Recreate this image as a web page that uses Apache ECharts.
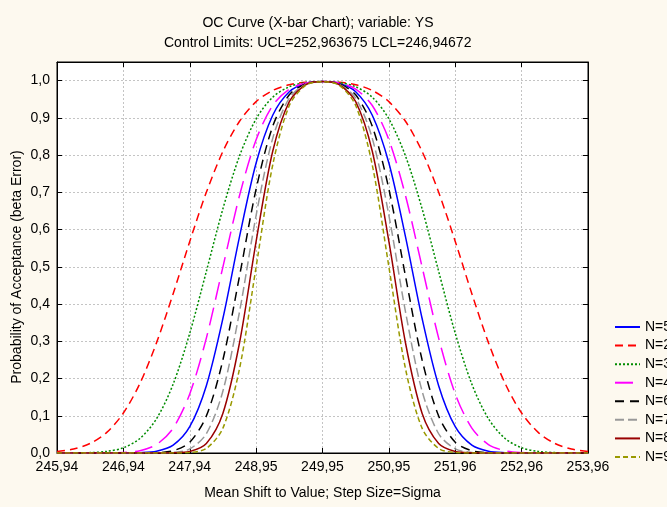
<!DOCTYPE html>
<html><head><meta charset="utf-8">
<script src="https://cdn.jsdelivr.net/npm/echarts@6/dist/echarts.min.js"></script>
<style>html,body{margin:0;padding:0;background:#fdf9ef}#c{width:667px;height:507px}</style>
</head><body><div id="c"></div>
<script>
// Mean shift in sigma steps from centre (249,95)
const shifts = [-4,-3.75,-3.5,-3.25,-3,-2.75,-2.5,-2.25,-2,-1.75,-1.5,-1.25,-1,-0.75,-0.5,-0.25,0,0.25,0.5,0.75,1,1.25,1.5,1.75,2,2.25,2.5,2.75,3,3.25,3.5,3.75,4];
const xTickLabels = ['245,94','246,94','247,94','248,95','249,95','250,95','251,96','252,96','253,96'];
const seriesNames = ['N=5','N=2','N=3','N=4','N=6','N=7','N=8','N=9'];
const n5 = [0,0,0,0,0.0001,0.0008,0.0048,0.0211,0.0707,0.1808,0.3618,0.5812,0.7787,0.9069,0.9700,0.9927,0.9973,0.9927,0.9700,0.9069,0.7787,0.5812,0.3618,0.1808,0.0707,0.0211,0.0048,0.0008,0.0001,0,0,0,0];
const n2 = [0.0039,0.0106,0.0258,0.0553,0.1073,0.1871,0.2964,0.4278,0.5681,0.7001,0.8100,0.8908,0.9435,0.9736,0.9891,0.9955,0.9973,0.9955,0.9891,0.9736,0.9435,0.8908,0.8100,0.7001,0.5681,0.4278,0.2964,0.1871,0.1073,0.0553,0.0258,0.0106,0.0039];
const n3 = [0.0000,0.0002,0.0011,0.0043,0.0140,0.0391,0.0920,0.1849,0.3215,0.4876,0.6562,0.7978,0.8973,0.9555,0.9835,0.9949,0.9973,0.9949,0.9835,0.9555,0.8973,0.7978,0.6562,0.4876,0.3215,0.1849,0.0920,0.0391,0.0140,0.0043,0.0011,0.0002,0.0000];
const n4 = [0,0,0,0.0002,0.0013,0.0062,0.0228,0.0668,0.1587,0.3085,0.5000,0.6915,0.8413,0.9332,0.9772,0.9938,0.9973,0.9938,0.9772,0.9332,0.8413,0.6915,0.5000,0.3085,0.1587,0.0668,0.0228,0.0062,0.0013,0.0002,0,0,0];
const n6 = [0,0,0,0,0,0.0001,0.0009,0.0060,0.0288,0.0992,0.2504,0.4753,0.7089,0.8773,0.9619,0.9915,0.9973,0.9915,0.9619,0.8773,0.7089,0.4753,0.2504,0.0992,0.0288,0.0060,0.0009,0.0001,0,0,0,0,0];
const n7 = [0,0,0,0,0,0,0.0002,0.0016,0.0110,0.0517,0.1666,0.3794,0.6382,0.8450,0.9531,0.9903,0.9973,0.9903,0.9531,0.8450,0.6382,0.3794,0.1666,0.0517,0.0110,0.0016,0.0002,0,0,0,0,0,0];
const n8 = [0,0,0,0,0,0,0,0.0004,0.0039,0.0256,0.1070,0.2961,0.5683,0.8103,0.9436,0.9891,0.9973,0.9891,0.9436,0.8103,0.5683,0.2961,0.1070,0.0256,0.0039,0.0004,0,0,0,0,0,0,0];
const n9 = [0,0,0,0,0,0,0,0.0001,0.0013,0.0122,0.0668,0.2266,0.5000,0.7734,0.9332,0.9878,0.9973,0.9878,0.9332,0.7734,0.5000,0.2266,0.0668,0.0122,0.0013,0.0001,0,0,0,0,0,0,0];

const seriesValues = [n5,n2,n3,n4,n6,n7,n8,n9];
const colors = ['#0000ff','#ff0000','#008c00','#ff00ff','#000000','#999999','#990000','#999900'];
const dashes = ['solid',[8,5],[2,2],[18,8],[9,6],[9,4],'solid',[5,3]];

const FONT = "'Liberation Sans', Arial, sans-serif";
const chart = echarts.init(document.getElementById('c'));
const gridLine = {show:true, lineStyle:{color:'#c4c4c4', type:[2,2], width:1}};
const axLine = {show:true, onZero:false, lineStyle:{color:'#000', width:1}};
chart.setOption({
  backgroundColor:'#fdf9ef',
  animation:false,
  textStyle:{fontFamily:FONT},
  graphic:[
    {type:'text', x:318, y:23, style:{text:'OC Curve (X-bar Chart); variable: YS', font:'14px '+FONT, fill:'#000', align:'center', verticalAlign:'middle'}},
    {type:'text', x:164, y:43, style:{text:'Control Limits: UCL=252,963675 LCL=246,946725', font:'14px '+FONT, fill:'#000', align:'left', verticalAlign:'middle', width:310, overflow:'truncate', ellipsis:''}},
    {type:'text', x:17.5, y:267, rotation:Math.PI/2, style:{text:'Probability of Acceptance (beta Error)', font:'14px '+FONT, fill:'#000', align:'center', verticalAlign:'middle'}}
  ],
  grid:{left:57, right:79, top:62, bottom:54, show:true, backgroundColor:'#ffffff', borderColor:'#000', borderWidth:1},
  legend:{orient:'vertical', left:609, top:315, itemWidth:25, itemHeight:14, itemGap:4.57,
    itemStyle:{opacity:0},
    textStyle:{fontFamily:FONT, fontSize:14, color:'#000'}, data:seriesNames},
  xAxis:[
    {type:'value', min:-4, max:4, interval:1, position:'bottom', axisLine:axLine,
     axisTick:{show:true, inside:true, length:5, lineStyle:{color:'#000'}},
     axisLabel:{fontFamily:FONT, fontSize:14, color:'#000', margin:7, formatter:v=>xTickLabels[Math.round(v+4)]},
     splitLine:gridLine,
     name:'Mean Shift to Value; Step Size=Sigma', nameLocation:'middle', nameGap:33,
     nameTextStyle:{fontFamily:FONT, fontSize:14, color:'#000'}},
    {type:'value', min:-4, max:4, interval:1, position:'top', axisLine:axLine,
     axisTick:{show:true, inside:true, length:5, lineStyle:{color:'#000'}},
     axisLabel:{show:false}, splitLine:{show:false}}
  ],
  yAxis:[
    {type:'value', min:0, max:1.05, interval:0.1, position:'left', axisLine:axLine,
     axisTick:{show:true, inside:true, length:5, lineStyle:{color:'#000'}},
     axisLabel:{fontFamily:FONT, fontSize:14, color:'#000', margin:7, showMaxLabel:false,
       formatter:v=> v>1.001 ? '' : v.toFixed(1).replace('.',',')},
     splitLine:gridLine},
    {type:'value', min:0, max:1.05, interval:0.1, position:'right', axisLine:axLine,
     axisTick:{show:true, inside:true, length:5, lineStyle:{color:'#000'}},
     axisLabel:{show:false}, splitLine:{show:false}}
  ],
  series: seriesNames.map((nm,i)=>({
    name:nm, type:'line', xAxisIndex:0, yAxisIndex:0,
    data: shifts.map((x,j)=>[x, seriesValues[i][j]]),
    symbol:'none', showSymbol:false, smooth:0.3,
    itemStyle:{color:colors[i]},
    lineStyle:{color:colors[i], width:1.5, type:dashes[i]},
    emphasis:{disabled:true}
  }))
});
</script></body></html>
